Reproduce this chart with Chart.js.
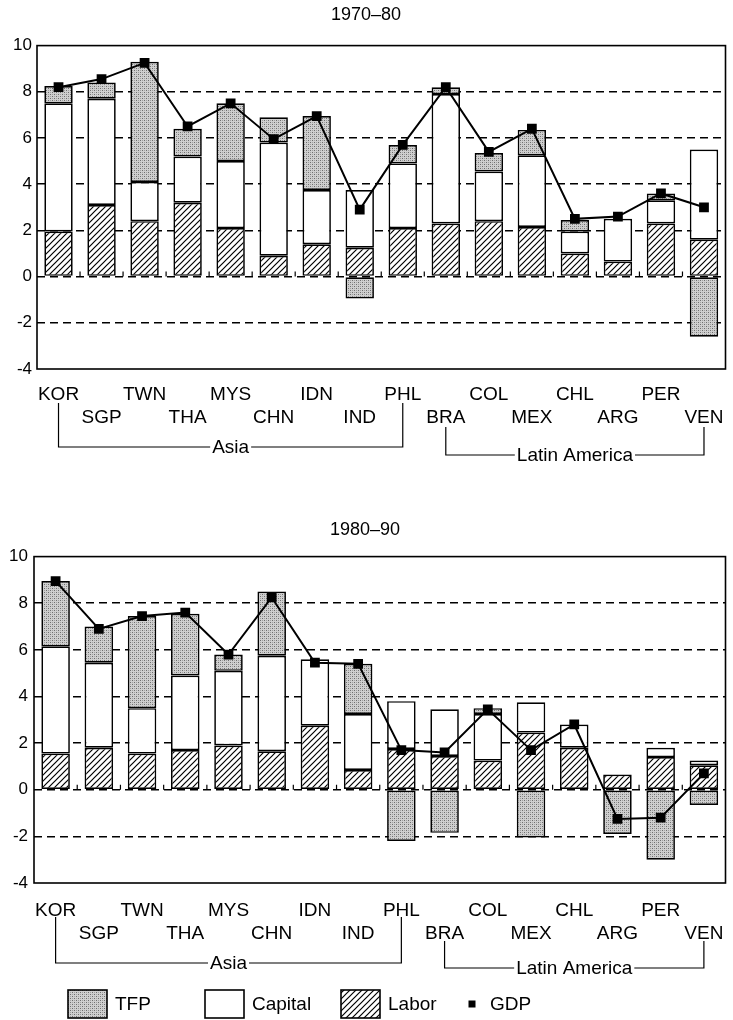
<!DOCTYPE html>
<html>
<head>
<meta charset="utf-8">
<script src="https://cdn.jsdelivr.net/npm/chart.js@4.4.0/dist/chart.umd.min.js"></script>
<style>
  body { margin: 0; background: #fff; width: 733px; height: 1020px; position: relative; overflow: hidden; }
  canvas { position: absolute; left: 0; }
  #c1 { top: 0; }
  #c2 { top: 500px; }
</style>
</head>
<body>
<canvas id="c1" width="733" height="470"></canvas>
<canvas id="c2" width="733" height="520"></canvas>
<script>
const FONT = "'Liberation Sans', Arial, sans-serif";

const countries = ['KOR', 'SGP', 'TWN', 'THA', 'MYS', 'CHN', 'IDN', 'IND',
                   'PHL', 'BRA', 'COL', 'MEX', 'CHL', 'ARG', 'PER', 'VEN'];

// 1970-80 contributions (percentage points)
const labor7080   = [1.95, 3.1, 2.4, 3.2, 2.1, 0.9, 1.4, 1.25, 2.1, 2.3, 2.4, 2.15, 1.0, 0.65, 2.3, 1.6];
const capital7080 = [5.55, 4.6, 1.7, 2.0, 2.9, 4.9, 2.35, 2.5, 2.8, 5.6, 2.15, 3.1, 0.95, 1.85, 1.0, 3.9];
const tfp7080     = [0.75, 0.7, 5.2, 1.2, 2.5, 1.1, 3.2, -0.95, 0.8, 0.3, 0.8, 1.1, 0.5, null, 0.3, -2.6];
const gdp7080     = [8.2, 8.55, 9.25, 6.5, 7.5, 5.95, 6.95, 2.9, 5.7, 8.2, 5.4, 6.4, 2.5, 2.6, 3.6, 3.0];

// 1980-90 contributions
const labor8090   = [1.55, 1.8, 1.55, 1.7, 1.9, 1.65, 2.75, 0.85, 1.75, 1.45, 1.25, 2.45, 1.8, 0.65, 1.4, 1.05];
const capital8090 = [4.6, 3.65, 1.95, 3.2, 3.2, 4.1, 2.85, 2.4, 2.05, 2.0, 2.0, 1.3, 1.0, null, 0.4, 0.2];
const tfp8090     = [2.8, 1.55, 3.95, 2.65, 0.7, 2.75, null, 2.15, -2.2, -1.85, 0.25, -2.05, null, -1.9, -3.0, -0.65];
const gdp8090     = [8.95, 6.9, 7.45, 7.6, 5.8, 8.25, 5.45, 5.4, 1.7, 1.6, 3.45, 1.7, 2.8, -1.25, -1.2, 0.7];

const yTicks = [-4, -2, 0, 2, 4, 6, 8, 10];
// labels alternate between two rows
const tickLabels = countries.map((c, i) => i % 2 === 0 ? [c, ''] : ['', c]);

const groups = [
  { label: 'Asia', from: 0, to: 8 },
  { label: 'Latin America', from: 9, to: 15 }
];

Chart.defaults.font.family = FONT;
Chart.defaults.color = '#000';

function hatchPattern(ctx) {
  const s = 6;
  const t = document.createElement('canvas');
  t.width = s; t.height = s;
  const g = t.getContext('2d');
  g.fillStyle = '#fff';
  g.fillRect(0, 0, s, s);
  g.strokeStyle = '#000';
  g.lineWidth = 1.2;
  g.beginPath();
  g.moveTo(-1, s + 1); g.lineTo(s + 1, -1);
  g.moveTo(-1, 1); g.lineTo(1, -1);
  g.moveTo(s - 1, s + 1); g.lineTo(s + 1, s - 1);
  g.stroke();
  return ctx.createPattern(t, 'repeat');
}

function dotPattern(ctx) {
  const t = document.createElement('canvas');
  t.width = 4; t.height = 4;
  const g = t.getContext('2d');
  g.fillStyle = '#cfcfcf';
  g.fillRect(0, 0, 4, 4);
  g.fillStyle = '#6e6e6e';
  g.fillRect(0, 0, 1, 1);
  g.fillRect(2, 2, 1, 1);
  g.fillStyle = '#a0a0a0';
  g.fillRect(2, 0, 1, 1);
  g.fillRect(0, 2, 1, 1);
  return ctx.createPattern(t, 'repeat');
}

const decor = {
  id: 'decor',
  afterDraw(chart, args, o) {
    const { ctx, chartArea: a, scales: { x, y } } = chart;
    ctx.save();
    // frame
    ctx.strokeStyle = '#000';
    ctx.lineWidth = 1.6;
    ctx.strokeRect(a.left, a.top, a.right - a.left, a.bottom - a.top);

    // little ticks on the zero line between bars
    const y0 = y.getPixelForValue(0);
    ctx.lineWidth = 1.2;
    ctx.beginPath();
    for (let i = 1; i < countries.length; i++) {
      const xm = (x.getPixelForValue(i - 1) + x.getPixelForValue(i)) / 2;
      ctx.moveTo(xm, y0);
      ctx.lineTo(xm, y0 - 5);
    }
    ctx.stroke();

    // region brackets
    ctx.font = '19px ' + FONT;
    ctx.textAlign = 'center';
    ctx.textBaseline = 'middle';
    ctx.fillStyle = '#000';
    ctx.lineWidth = 1.2;
    o.groups.forEach((g, k) => {
      const x1 = x.getPixelForValue(g.from);
      const x2 = x.getPixelForValue(g.to);
      const yl = a.bottom + o.bracketY[k];
      const top1 = a.bottom + (g.from % 2 === 0 ? 34 : 58);
      const top2 = a.bottom + (g.to % 2 === 0 ? 34 : 58);
      const mid = (x1 + x2) / 2;
      const w = ctx.measureText(g.label).width / 2 + 2;
      ctx.beginPath();
      ctx.moveTo(x1, top1); ctx.lineTo(x1, yl); ctx.lineTo(mid - w, yl);
      ctx.moveTo(mid + w, yl); ctx.lineTo(x2, yl); ctx.lineTo(x2, top2);
      ctx.stroke();
      ctx.fillText(g.label, mid, yl + 1);
    });

    // legend
    if (o.legend) {
      const ly = o.legendY;
      const items = [
        { text: 'TFP', dx: 34, fill: chart.data.datasets[2].backgroundColor },
        { text: 'Capital', dx: 171, fill: '#fff' },
        { text: 'Labor', dx: 307, fill: chart.data.datasets[0].backgroundColor }
      ];
      ctx.textAlign = 'left';
      ctx.lineWidth = 1.6;
      items.forEach(it => {
        const bx = a.left + it.dx;
        ctx.fillStyle = it.fill;
        ctx.fillRect(bx, ly - 14, 39, 28);
        ctx.strokeRect(bx, ly - 14, 39, 28);
        ctx.fillStyle = '#000';
        ctx.fillText(it.text, bx + 47, ly + 1);
      });
      const gx = a.left + 438;
      ctx.fillRect(gx - 3.5, ly - 3.5, 7, 7);
      ctx.fillText('GDP', gx + 18, ly + 1);
    }
    ctx.restore();
  }
};

function makeChart(id, title, labor, capital, tfp, gdp, lay) {
  const canvas = document.getElementById(id);
  const c2d = canvas.getContext('2d');
  return new Chart(canvas, {
    type: 'bar',
    data: {
      labels: tickLabels,
      datasets: [
        { label: 'Labor', data: labor, backgroundColor: hatchPattern(c2d) },
        { label: 'Capital', data: capital, backgroundColor: '#fff' },
        { label: 'TFP', data: tfp, backgroundColor: dotPattern(c2d) },
        {
          type: 'line', label: 'GDP', data: gdp, order: -1,
          borderColor: '#000', borderWidth: 2,
          pointStyle: 'rect', pointRadius: 5.5,
          pointBackgroundColor: '#000', pointBorderColor: '#000'
        }
      ]
    },
    options: {
      responsive: false,
      animation: false,
      layout: { padding: { left: 0, right: lay.padRight, top: 0, bottom: 0 } },
      datasets: {
        bar: {
          borderColor: '#000', borderWidth: 1.7, borderSkipped: false,
          barPercentage: 0.66, categoryPercentage: 1
        }
      },
      plugins: {
        legend: { display: false },
        tooltip: { enabled: false },
        title: {
          display: true, text: title, color: '#000',
          font: { size: 18, weight: 'normal' },
          padding: { top: lay.titleTop, bottom: lay.titleBottom }
        },
        decor: { groups: groups, bracketY: lay.bracketY, legend: lay.legend, legendY: lay.legendY }
      },
      scales: {
        x: {
          stacked: true,
          grid: { display: false },
          border: { display: false },
          ticks: {
            font: { size: 19, lineHeight: 1.22 }, color: '#000',
            maxRotation: 0, autoSkip: false, padding: lay.xPad
          },
          afterFit: s => { s.height = lay.xHeight; }
        },
        y: {
          stacked: true,
          min: yTicks[0], max: yTicks[yTicks.length - 1],
          afterBuildTicks: s => { s.ticks = yTicks.map(v => ({ value: v })); },
          ticks: { font: { size: 17 }, color: '#000', padding: lay.yPad },
          grid: {
            drawTicks: false, lineWidth: 1.5,
            color: c => (c.tick.value === 10 || c.tick.value === -4) ? 'rgba(0,0,0,0)' : '#000'
          },
          border: { display: false, dash: [8, 5] },
          afterFit: s => { s.width = lay.yWidth; }
        }
      }
    },
    plugins: [decor]
  });
}

makeChart('c1', '1970–80', labor7080, capital7080, tfp7080, gdp7080, {
  padRight: 1, titleTop: 4, titleBottom: 20, xHeight: 101, xPad: 6,
  yWidth: 37, yPad: 5, bracketY: [78, 86], legend: false
});

makeChart('c2', '1980–90', labor8090, capital8090, tfp8090, gdp8090, {
  padRight: 3, titleTop: 19, titleBottom: 16, xHeight: 137, xPad: 8,
  yWidth: 34, yPad: 6, bracketY: [80, 85], legend: true, legendY: 504
});
</script>
</body>
</html>
